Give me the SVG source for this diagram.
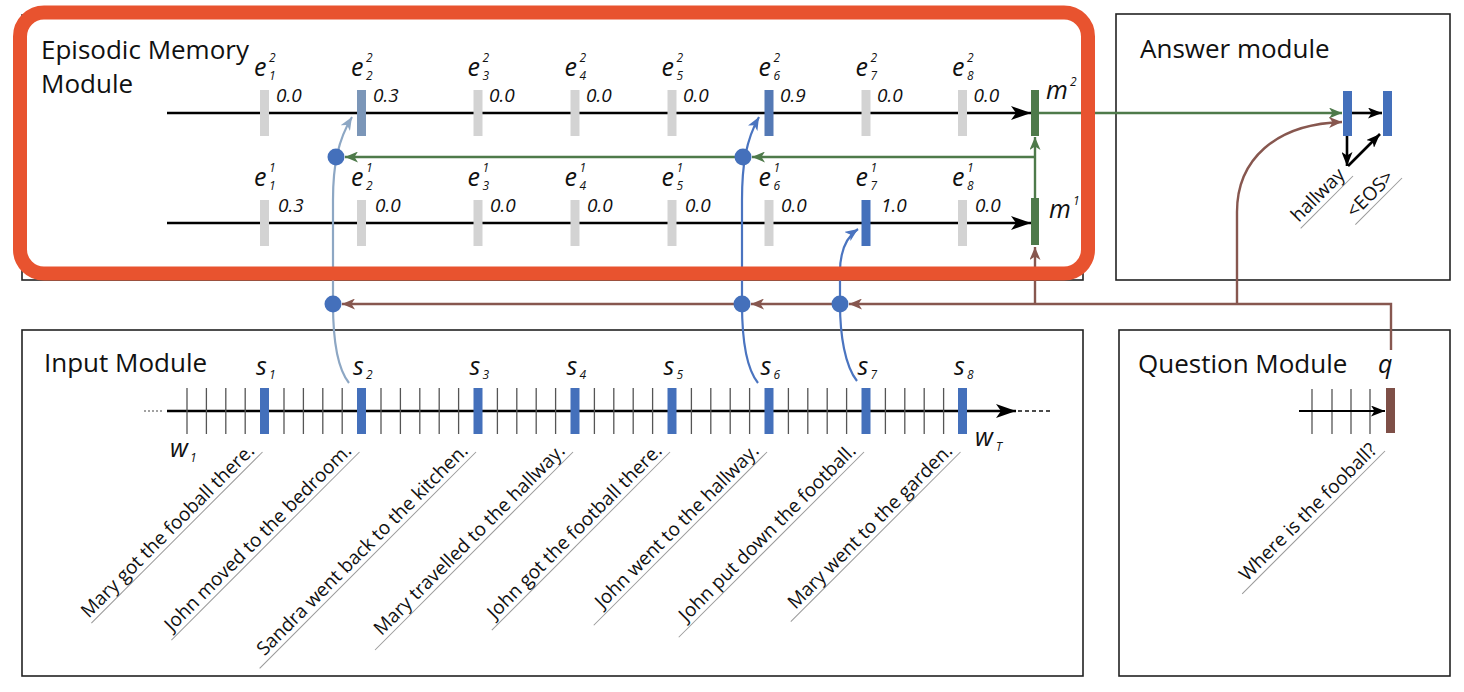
<svg xmlns="http://www.w3.org/2000/svg" width="1464" height="692" viewBox="0 0 1464 692">
<defs>
<style>
.box{fill:none;stroke:#222;stroke-width:1.6}
.title{font-family:"Open Sans",sans-serif;font-size:26px;fill:#111}
.it{font-family:"Open Sans",sans-serif;font-style:italic;font-size:25px;fill:#111}
.sm{font-family:"Open Sans",sans-serif;font-style:italic;font-size:12px;fill:#111}
.val{font-family:"Open Sans",sans-serif;font-style:italic;font-size:19px;fill:#111}
.sent{font-family:"Open Sans",sans-serif;font-size:19px;fill:#111}
.ul{stroke:#9a9a9a;stroke-width:1}
.tick{stroke:#555;stroke-width:1.3}
.gbar{fill:#D3D3D3}
.bbar{fill:#4470BB}
.gr{fill:#4E7A4A}
.blk{stroke:#000;stroke-width:2.6;fill:none}
.grn{stroke:#4E7A4A;stroke-width:2.4;fill:none}
.brn{stroke:#87574F;stroke-width:2.4;fill:none}
.blu{stroke:#4A74C0;stroke-width:2.2;fill:none}
.lblu{stroke:#8DA7C4;stroke-width:2.2;fill:none}
.dot{fill:#4470BB}
</style>
<marker id="ahB" viewBox="0 0 20 14" refX="20" refY="7" markerWidth="20" markerHeight="14" markerUnits="userSpaceOnUse" orient="auto"><path d="M0,0 L20,7 L0,14 L5,7 z" fill="#000"/></marker>
<marker id="ahBs" viewBox="0 0 14 11" refX="14" refY="5.5" markerWidth="14" markerHeight="11" markerUnits="userSpaceOnUse" orient="auto"><path d="M0,0 L14,5.5 L0,11 L3.5,5.5 z" fill="#000"/></marker>
<marker id="ahG" viewBox="0 0 13 11" refX="13" refY="5.5" markerWidth="13" markerHeight="11" markerUnits="userSpaceOnUse" orient="auto"><path d="M0,0 L13,5.5 L0,11 L3.5,5.5 z" fill="#4E7A4A"/></marker>
<marker id="ahR" viewBox="0 0 13 11" refX="13" refY="5.5" markerWidth="13" markerHeight="11" markerUnits="userSpaceOnUse" orient="auto"><path d="M0,0 L13,5.5 L0,11 L3.5,5.5 z" fill="#87574F"/></marker>
<marker id="ahU" viewBox="0 0 13 11" refX="13" refY="5.5" markerWidth="13" markerHeight="11" markerUnits="userSpaceOnUse" orient="auto"><path d="M0,0 L13,5.5 L0,11 L3.5,5.5 z" fill="#4A74C0"/></marker>
<marker id="ahL" viewBox="0 0 13 11" refX="13" refY="5.5" markerWidth="13" markerHeight="11" markerUnits="userSpaceOnUse" orient="auto"><path d="M0,0 L13,5.5 L0,11 L3.5,5.5 z" fill="#8DA7C4"/></marker>
</defs>
<rect width="1464" height="692" fill="#fff"/>

<g id="episodic-memory">
<rect class="box" x="22" y="15" width="1061" height="265"/>
<text class="title" x="41" y="59">Episodic Memory</text>
<text class="title" x="41" y="93">Module</text>
<path class="blk" d="M167,113 H1031" marker-end="url(#ahB)"/>
<path class="blk" d="M167,223 H1031" marker-end="url(#ahB)"/>
<rect class="gbar" x="260" y="90" width="9" height="46"/>
<rect x="357" y="90" width="9" height="46" fill="#7B96B8"/>
<rect class="gbar" x="473.5" y="90" width="9" height="46"/>
<rect class="gbar" x="570.5" y="90" width="9" height="46"/>
<rect class="gbar" x="667.5" y="90" width="9" height="46"/>
<rect x="764.5" y="90" width="9" height="46" fill="#5479B5"/>
<rect class="gbar" x="861.5" y="90" width="9" height="46"/>
<rect class="gbar" x="958" y="90" width="9" height="46"/>
<rect class="gr" x="1031" y="90" width="8" height="46"/>
<rect class="gbar" x="260" y="200" width="9" height="46"/>
<rect class="gbar" x="357" y="200" width="9" height="46"/>
<rect class="gbar" x="473.5" y="200" width="9" height="46"/>
<rect class="gbar" x="570.5" y="200" width="9" height="46"/>
<rect class="gbar" x="667.5" y="200" width="9" height="46"/>
<rect class="gbar" x="764.5" y="200" width="9" height="46"/>
<rect class="bbar" x="861.5" y="200" width="9" height="46"/>
<rect class="gbar" x="958" y="200" width="9" height="46"/>
<rect class="gr" x="1031" y="198" width="8" height="47"/>
<text class="it" x="254" y="76">e</text><text class="sm" x="269" y="62">2</text><text class="sm" x="269" y="80">1</text><text class="val" x="276" y="102">0.0</text>
<text class="it" x="351" y="76">e</text><text class="sm" x="366" y="62">2</text><text class="sm" x="366" y="80">2</text><text class="val" x="373" y="102">0.3</text>
<text class="it" x="467.5" y="76">e</text><text class="sm" x="482.5" y="62">2</text><text class="sm" x="482.5" y="80">3</text><text class="val" x="489" y="102">0.0</text>
<text class="it" x="564.5" y="76">e</text><text class="sm" x="579.5" y="62">2</text><text class="sm" x="579.5" y="80">4</text><text class="val" x="586" y="102">0.0</text>
<text class="it" x="661.5" y="76">e</text><text class="sm" x="676.5" y="62">2</text><text class="sm" x="676.5" y="80">5</text><text class="val" x="683" y="102">0.0</text>
<text class="it" x="758.5" y="76">e</text><text class="sm" x="773.5" y="62">2</text><text class="sm" x="773.5" y="80">6</text><text class="val" x="780" y="102">0.9</text>
<text class="it" x="855.5" y="76">e</text><text class="sm" x="870.5" y="62">2</text><text class="sm" x="870.5" y="80">7</text><text class="val" x="877" y="102">0.0</text>
<text class="it" x="952" y="76">e</text><text class="sm" x="967" y="62">2</text><text class="sm" x="967" y="80">8</text><text class="val" x="973.5" y="102">0.0</text>
<text class="it" x="254" y="186">e</text><text class="sm" x="269" y="172">1</text><text class="sm" x="269" y="190">1</text><text class="val" x="278" y="212">0.3</text>
<text class="it" x="351" y="186">e</text><text class="sm" x="366" y="172">1</text><text class="sm" x="366" y="190">2</text><text class="val" x="375" y="212">0.0</text>
<text class="it" x="467.5" y="186">e</text><text class="sm" x="482.5" y="172">1</text><text class="sm" x="482.5" y="190">3</text><text class="val" x="490" y="212">0.0</text>
<text class="it" x="564.5" y="186">e</text><text class="sm" x="579.5" y="172">1</text><text class="sm" x="579.5" y="190">4</text><text class="val" x="587" y="212">0.0</text>
<text class="it" x="661.5" y="186">e</text><text class="sm" x="676.5" y="172">1</text><text class="sm" x="676.5" y="190">5</text><text class="val" x="685" y="212">0.0</text>
<text class="it" x="758.5" y="186">e</text><text class="sm" x="773.5" y="172">1</text><text class="sm" x="773.5" y="190">6</text><text class="val" x="781" y="212">0.0</text>
<text class="it" x="855.5" y="186">e</text><text class="sm" x="870.5" y="172">1</text><text class="sm" x="870.5" y="190">7</text><text class="val" x="881" y="212">1.0</text>
<text class="it" x="952" y="186">e</text><text class="sm" x="967" y="172">1</text><text class="sm" x="967" y="190">8</text><text class="val" x="975" y="212">0.0</text>
<text class="it" x="1046" y="99">m</text><text class="sm" x="1070" y="86">2</text>
<text class="it" x="1049" y="218">m</text><text class="sm" x="1073" y="205">1</text>
</g>

<g id="answer-module">
<rect class="box" x="1116" y="14" width="334" height="266"/>
<text class="title" x="1140" y="58">Answer module</text>
<rect class="bbar" x="1343" y="91" width="9" height="45"/>
<rect class="bbar" x="1383" y="91" width="9" height="45"/>
<path class="blk" d="M1352,113 H1382" marker-end="url(#ahBs)"/>
<path class="blk" d="M1347,136 V166" marker-end="url(#ahBs)"/>
<path class="blk" d="M1348,166 L1380,134" marker-end="url(#ahBs)"/>
<g transform="translate(1353,176) rotate(-45)">
<line class="ul" x1="-74" y1="0" x2="0" y2="0"/>
<text class="sent" x="-5" y="-5" text-anchor="end">hallway</text>
</g>
<g transform="translate(1402,178) rotate(-45)">
<line class="ul" x1="-66" y1="0" x2="0" y2="0"/>
<text class="sent" x="-5" y="-5" text-anchor="end">&lt;EOS&gt;</text>
</g>
</g>

<g id="input-module">
<rect class="box" x="22" y="330" width="1061" height="346"/>
<text class="title" x="44" y="372">Input Module</text>
<line x1="144" y1="411" x2="164" y2="411" stroke="#444" stroke-width="1.2" stroke-dasharray="2,2"/>
<line x1="1018" y1="411" x2="1052" y2="411" stroke="#111" stroke-width="1.4" stroke-dasharray="4,3"/>
<path class="blk" d="M167,411 H1016" marker-end="url(#ahB)"/>
<g class="tick">
<line x1="187" y1="388" x2="187" y2="434"/><line x1="206.4" y1="388" x2="206.4" y2="434"/><line x1="225.8" y1="388" x2="225.8" y2="434"/><line x1="245.2" y1="388" x2="245.2" y2="434"/>
<line x1="284" y1="388" x2="284" y2="434"/><line x1="303.4" y1="388" x2="303.4" y2="434"/><line x1="322.8" y1="388" x2="322.8" y2="434"/><line x1="342.2" y1="388" x2="342.2" y2="434"/>
<line x1="381" y1="388" x2="381" y2="434"/><line x1="400.4" y1="388" x2="400.4" y2="434"/><line x1="419.8" y1="388" x2="419.8" y2="434"/><line x1="439.2" y1="388" x2="439.2" y2="434"/><line x1="458.6" y1="388" x2="458.6" y2="434"/>
<line x1="497.4" y1="388" x2="497.4" y2="434"/><line x1="516.8" y1="388" x2="516.8" y2="434"/><line x1="536.2" y1="388" x2="536.2" y2="434"/><line x1="555.6" y1="388" x2="555.6" y2="434"/>
<line x1="594.4" y1="388" x2="594.4" y2="434"/><line x1="613.8" y1="388" x2="613.8" y2="434"/><line x1="633.2" y1="388" x2="633.2" y2="434"/><line x1="652.6" y1="388" x2="652.6" y2="434"/>
<line x1="691.4" y1="388" x2="691.4" y2="434"/><line x1="710.8" y1="388" x2="710.8" y2="434"/><line x1="730.2" y1="388" x2="730.2" y2="434"/><line x1="749.6" y1="388" x2="749.6" y2="434"/>
<line x1="788.4" y1="388" x2="788.4" y2="434"/><line x1="807.8" y1="388" x2="807.8" y2="434"/><line x1="827.2" y1="388" x2="827.2" y2="434"/><line x1="846.6" y1="388" x2="846.6" y2="434"/>
<line x1="885.4" y1="388" x2="885.4" y2="434"/><line x1="904.8" y1="388" x2="904.8" y2="434"/><line x1="924.2" y1="388" x2="924.2" y2="434"/><line x1="943.6" y1="388" x2="943.6" y2="434"/>
</g>
<rect class="bbar" x="260" y="388" width="9" height="46"/>
<rect class="bbar" x="357" y="388" width="9" height="46"/>
<rect class="bbar" x="473.5" y="388" width="9" height="46"/>
<rect class="bbar" x="570.5" y="388" width="9" height="46"/>
<rect class="bbar" x="667.5" y="388" width="9" height="46"/>
<rect class="bbar" x="764.5" y="388" width="9" height="46"/>
<rect class="bbar" x="861.5" y="388" width="9" height="46"/>
<rect class="bbar" x="958" y="388" width="9" height="46"/>
<text class="it" x="256" y="375">s</text><text class="sm" x="269" y="379">1</text>
<text class="it" x="353" y="375">s</text><text class="sm" x="366" y="379">2</text>
<text class="it" x="469.5" y="375">s</text><text class="sm" x="482.5" y="379">3</text>
<text class="it" x="566.5" y="375">s</text><text class="sm" x="579.5" y="379">4</text>
<text class="it" x="663.5" y="375">s</text><text class="sm" x="676.5" y="379">5</text>
<text class="it" x="760.5" y="375">s</text><text class="sm" x="773.5" y="379">6</text>
<text class="it" x="857.5" y="375">s</text><text class="sm" x="870.5" y="379">7</text>
<text class="it" x="954" y="375">s</text><text class="sm" x="967" y="379">8</text>
<text class="it" x="170" y="457">w</text><text class="sm" x="190" y="462">1</text>
<text class="it" x="975" y="446">w</text><text class="sm" x="996" y="451">T</text>
<g transform="translate(262.5,452) rotate(-45)"><line class="ul" x1="-242" y1="0" x2="0" y2="0"/><text class="sent" x="-5" y="-5" text-anchor="end">Mary got the fooball there.</text></g>
<g transform="translate(359.5,452) rotate(-45)"><line class="ul" x1="-266" y1="0" x2="0" y2="0"/><text class="sent" x="-5" y="-5" text-anchor="end">John moved to the bedroom.</text></g>
<g transform="translate(476,452) rotate(-45)"><line class="ul" x1="-306" y1="0" x2="0" y2="0"/><text class="sent" x="-5" y="-5" text-anchor="end">Sandra went back to the kitchen.</text></g>
<g transform="translate(573,452) rotate(-45)"><line class="ul" x1="-280" y1="0" x2="0" y2="0"/><text class="sent" x="-5" y="-5" text-anchor="end">Mary travelled to the hallway.</text></g>
<g transform="translate(670,452) rotate(-45)"><line class="ul" x1="-252" y1="0" x2="0" y2="0"/><text class="sent" x="-5" y="-5" text-anchor="end">John got the football there.</text></g>
<g transform="translate(767,452) rotate(-45)"><line class="ul" x1="-245" y1="0" x2="0" y2="0"/><text class="sent" x="-5" y="-5" text-anchor="end">John went to the hallway.</text></g>
<g transform="translate(864,452) rotate(-45)"><line class="ul" x1="-262" y1="0" x2="0" y2="0"/><text class="sent" x="-5" y="-5" text-anchor="end">John put down the football.</text></g>
<g transform="translate(960.5,452) rotate(-45)"><line class="ul" x1="-240" y1="0" x2="0" y2="0"/><text class="sent" x="-5" y="-5" text-anchor="end">Mary went to the garden.</text></g>
</g>

<g id="question-module">
<rect class="box" x="1119" y="330" width="331" height="346"/>
<text class="title" x="1138" y="373">Question Module</text>
<text class="it" x="1378" y="373">q</text>
<g class="tick"><line x1="1312" y1="389" x2="1312" y2="434"/><line x1="1332" y1="389" x2="1332" y2="434"/><line x1="1351" y1="389" x2="1351" y2="434"/><line x1="1370" y1="389" x2="1370" y2="434"/></g>
<path d="M1299,411 H1385" stroke="#000" stroke-width="2" fill="none" marker-end="url(#ahBs)"/>
<rect x="1386" y="388" width="9" height="45" fill="#7E4F47"/>
<g transform="translate(1385,451) rotate(-45)"><line class="ul" x1="-202" y1="0" x2="0" y2="0"/><text class="sent" x="-5" y="-5" text-anchor="end">Where is the fooball?</text></g>
</g>

<g id="connectors">
<path class="grn" d="M1035,198 V137" stroke-width="3" marker-end="url(#ahG)"/>
<path class="grn" d="M1035,157 H752" marker-end="url(#ahG)"/>
<path class="grn" d="M743,157 H345" marker-end="url(#ahG)"/>
<path class="grn" d="M1039,113 H1342" marker-end="url(#ahG)"/>
<path class="brn" d="M1391,350 V304 H849" marker-end="url(#ahR)"/>
<path class="brn" d="M840,304 H751" marker-end="url(#ahR)"/>
<path class="brn" d="M742,304 H342" marker-end="url(#ahR)"/>
<path class="brn" d="M1035,304 V247" marker-end="url(#ahR)"/>
<path class="brn" d="M1237,304 V212 C1237,160 1275,124 1342,122" marker-end="url(#ahR)"/>
<path class="lblu" d="M349,383 C337,368 333,335 333,304 L333,200 C333,165 338,140 352,117" marker-end="url(#ahL)"/>
<path class="blu" d="M758,383 C746,368 742,335 742,304 L742,200 C742,165 746,140 759,117" marker-end="url(#ahU)"/>
<path class="blu" d="M857,381 C845,366 840,335 840,304 L840,272 C840,252 845,238 858,229" marker-end="url(#ahU)"/>
<circle class="dot" cx="336" cy="157" r="8.5"/>
<circle class="dot" cx="743" cy="157" r="8.5"/>
<circle class="dot" cx="333" cy="304" r="8.5"/>
<circle class="dot" cx="742" cy="304" r="8.5"/>
<circle class="dot" cx="840" cy="304" r="8.5"/>
</g>

<rect id="highlight" x="20" y="12.5" width="1068" height="261" rx="24" ry="24" fill="none" stroke="#E8532F" stroke-width="14"/>
</svg>
